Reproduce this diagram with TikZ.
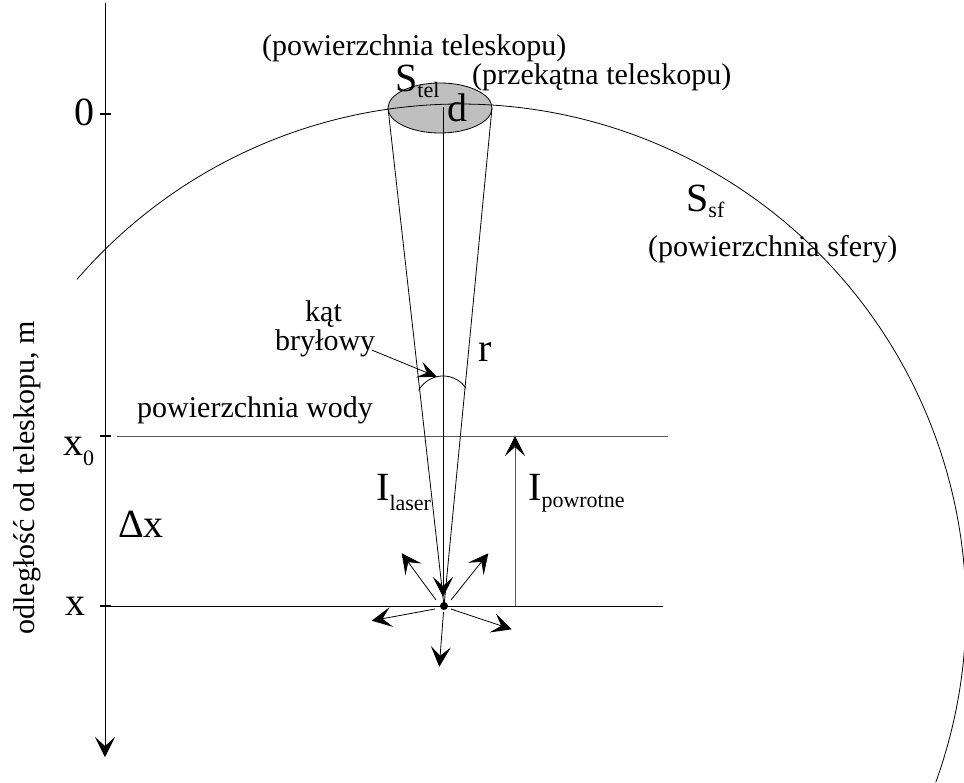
\documentclass[tikz,border=0pt]{standalone}
\usepackage{fontspec}
\setmainfont{Liberation Serif}
\usetikzlibrary{arrows.meta,shapes.geometric}
\newcommand{\lsub}[2]{\raisebox{-#1pt}{\fontsize{22}{22}\selectfont #2}}
\begin{document}
\begin{tikzpicture}[x=1pt,y=-1pt,
  ln/.style={line width=0.8pt},
  arr/.style={ln,-{Stealth[length=20pt,width=20pt,inset=9pt,black]}},
  sarr/.style={ln,-{Stealth[length=19pt,width=17pt,inset=8.5pt,black]}},
  txt/.style={inner sep=0pt, anchor=base west, font=\fontsize{30}{30}\selectfont},
  big/.style={inner sep=0pt, anchor=base west, font=\fontsize{40}{40}\selectfont},
  tickmark/.style={line width=2.2pt},
  water/.style={line width=0.8pt, draw=black!65}]
\useasboundingbox (0,0) rectangle (964,783);

% axis
\coordinate (atop) at (105,3);
\coordinate (abot) at (105,757);
\draw[arr] (atop) -- (abot);
\coordinate (t0a) at (100,114); \coordinate (t0b) at (111,114);
\coordinate (t1a) at (100,436); \coordinate (t1b) at (111,436);
\coordinate (t2a) at (100,606); \coordinate (t2b) at (111,606);
\draw[tickmark] (t0a) -- (t0b);
\draw[tickmark] (t1a) -- (t1b);
\draw[tickmark] (t2a) -- (t2b);

% water surface and level x
\coordinate (wl) at (117,436); \coordinate (wr) at (668,436);
\draw[water] (wl) -- (wr);
\coordinate (xl) at (105,606); \coordinate (xr) at (663,606);
\draw[ln] (xl) -- (xr);

% scattering point
\node[circle, fill, inner sep=0pt, minimum size=8pt] (P) at (444,606) {};

% cone
\coordinate (cl) at (388,108); \coordinate (cr) at (492,108);
\draw[ln] (cl) -- (P.center);
\draw[ln] (cr) -- (P.center);

% telescope
\node[ellipse, draw, line width=0.8pt, fill=gray!50, minimum width=104pt, minimum height=50pt, inner sep=0pt] (tel) at (440,108) {};

% sphere
\begin{scope}
\clip (0,0) rectangle (964,783);
\draw[ln] plot[domain=-139.2:19.9, samples=240, smooth] ({460+506*cos(\x)},{610+506*sin(\x)});
\end{scope}

% laser
\coordinate (ltop) at (443,107);
\coordinate (lend) at (443,597);
\draw[arr] (ltop) -- (lend);

% solid angle
\draw[ln] plot[domain=208.4:326.6, samples=60, smooth] ({443+27.7*cos(\x)},{403.7+27.7*sin(\x)});
\coordinate (ka) at (371.7,350); \coordinate (kb) at (436.7,376.7);
\draw[sarr] (ka) -- (kb);

% scattered light
\coordinate (sul0) at (436,600); \coordinate (sul) at (401.7,553.3);
\coordinate (sur0) at (451,600); \coordinate (sur) at (488.3,553.3);
\coordinate (sl0) at (435,609); \coordinate (sl) at (371.7,620.7);
\coordinate (sr0) at (451,609); \coordinate (sr) at (511.7,629.3);
\coordinate (sd0) at (443.5,612); \coordinate (sd) at (439.3,666.7);
\draw[arr] (sul0) -- (sul);
\draw[arr] (sur0) -- (sur);
\draw[arr] (sl0) -- (sl);
\draw[arr] (sr0) -- (sr);
\draw[arr] (sd0) -- (sd);

% return signal
\coordinate (pb) at (515,606); \coordinate (pt) at (515,436);
\draw[arr, draw=black!65] (pb) -- (pt);

% labels
\node[txt] (ltel) at (262,56) {(powierzchnia teleskopu)};
\node[big] (stel) at (395,92) {S\lsub{6}{tel}};
\node[big] (dlab) at (447,122) {d};
\node[txt] (lprz) at (472,85) {(przekątna teleskopu)};
\node[big] (ssf) at (686,212) {S\lsub{6}{sf}};
\node[txt] (lsf) at (648,257) {(powierzchnia sfery)};
\node[txt] (kat) at (305,322) {kąt};
\node[txt] (bryl) at (275,351) {bryłowy};
\node[big] (rlab) at (478,362) {r};
\node[txt] (wody) at (137,418) {powierzchnia wody};
\node[big] (ilas) at (376,500) {I\lsub{10}{laser}};
\node[big] (ipow) at (528,500) {I\lsub{7}{powrotne}};
\node[big] (l0) at (74,126) {0};
\node[big] (lx0) at (63,455) {x\lsub{10}{0}};
\node[big] (ldx) at (118,537) {Δx};
\node[big] (lx) at (65,615) {x};
\node[txt, rotate=90, anchor=center] (axl) at (27,478) {odległość od teleskopu, m};
\end{tikzpicture}
\end{document}
